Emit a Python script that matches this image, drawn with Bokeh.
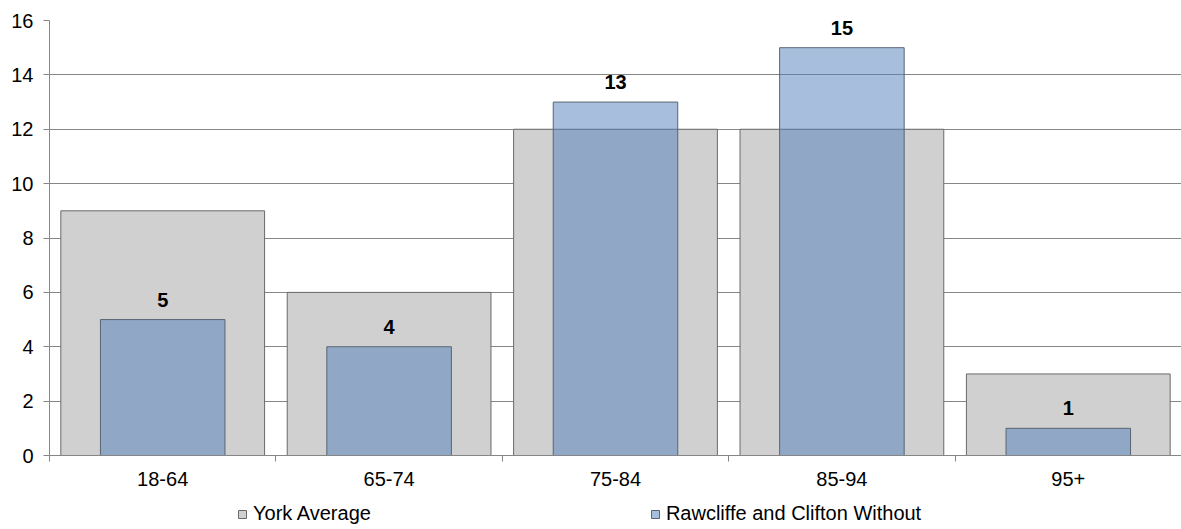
from bokeh.plotting import figure
from bokeh.layouts import column
from bokeh.models import ColumnDataSource, Range1d, FixedTicker, LabelSet, Legend, LegendItem
from bokeh.core.properties import value
from bokeh.embed import file_html
from bokeh.resources import INLINE

categories = ["18-64", "65-74", "75-84", "85-94", "95+"]
york_average = [9, 6, 12, 12, 3]
rawcliffe = [5, 4, 13, 15, 1]
series_names = ["York Average", "Rawcliffe and Clifton Without"]
y_ticks = [0, 2, 4, 6, 8, 10, 12, 14, 16]

FONT = "Liberation Sans"
GREY = dict(fill_color="#D0D0D0", line_color="#6A6A6A", line_width=1)
BLUE = dict(fill_color="#4F7FBB", fill_alpha=0.5, line_color="#5A6473", line_width=1)

xs = [i + 0.5 for i in range(len(categories))]
src = ColumnDataSource(dict(x=xs, cat=categories, york=york_average, raw=rawcliffe,
                            lbl=[str(v) for v in rawcliffe]))

p = figure(width=1181, height=492, output_backend="svg", toolbar_location=None,
           x_range=Range1d(0, len(categories)), y_range=Range1d(0, 16),
           min_border_left=49, min_border_right=0, min_border_top=20, min_border_bottom=37)
p.outline_line_color = None
p.background_fill_color = "white"

p.vbar(x="x", top="york", width=0.9, source=src, **GREY)
p.vbar(x="x", top="raw", width=0.55, source=src, **BLUE)

labels = LabelSet(x="x", y="raw", text="lbl", source=src, y_offset=20,
                  text_align="center", text_baseline="middle",
                  text_font=value(FONT), text_font_size=value("20px"),
                  text_font_style=value("bold"), text_color=value("black"))
p.add_layout(labels)

# x axis
p.xaxis.ticker = FixedTicker(ticks=xs, minor_ticks=list(range(len(categories) + 1)))
p.xaxis.major_label_overrides = {x: c for x, c in zip(xs, categories)}
p.xaxis.major_tick_line_color = None
p.xaxis.major_tick_out = 0
p.xaxis.major_tick_in = 0
p.xaxis.minor_tick_out = 6
p.xaxis.minor_tick_in = 0
p.xaxis.minor_tick_line_color = "#868686"
p.xaxis.axis_line_color = "#868686"
p.xaxis.major_label_standoff = 10
p.xaxis.major_label_text_font = FONT
p.xaxis.major_label_text_font_size = "20px"
p.xaxis.major_label_text_color = "black"

# y axis
p.yaxis.ticker = FixedTicker(ticks=y_ticks)
p.yaxis.major_tick_out = 6
p.yaxis.major_tick_in = 0
p.yaxis.minor_tick_line_color = None
p.yaxis.major_tick_line_color = "#868686"
p.yaxis.axis_line_color = "#868686"
p.yaxis.major_label_standoff = 10
p.yaxis.major_label_text_font = FONT
p.yaxis.major_label_text_font_size = "20px"
p.yaxis.major_label_text_color = "black"

p.xgrid.grid_line_color = None
p.ygrid.ticker = FixedTicker(ticks=y_ticks)
p.ygrid.grid_line_color = "#868686"
p.ygrid.grid_line_width = 1

# legend strip below the chart (its view range lies away from the series data)
lg = figure(width=1181, height=37, output_backend="svg", toolbar_location=None,
            x_axis_type=None, y_axis_type=None, min_border=0,
            x_range=Range1d(-20, -10), y_range=Range1d(-20, -10))
lg.outline_line_color = None
lg.grid.visible = False
k1 = lg.vbar(x="x", top="york", width=0.9, source=src, **GREY)
k2 = lg.vbar(x="x", top="raw", width=0.55, source=src, **BLUE)
legend = Legend(items=[LegendItem(label=series_names[0], renderers=[k1]),
                       LegendItem(label=series_names[1], renderers=[k2])],
                orientation="horizontal", location=(188, 4), spacing=279,
                glyph_width=10, glyph_height=10, label_standoff=6, padding=0, margin=0,
                label_text_font=FONT, label_text_font_size="20px", label_text_color="black",
                border_line_color=None, background_fill_alpha=0)
lg.add_layout(legend)

layout = column(p, lg, spacing=0)
open("out.html", "w").write(file_html(layout, INLINE))
